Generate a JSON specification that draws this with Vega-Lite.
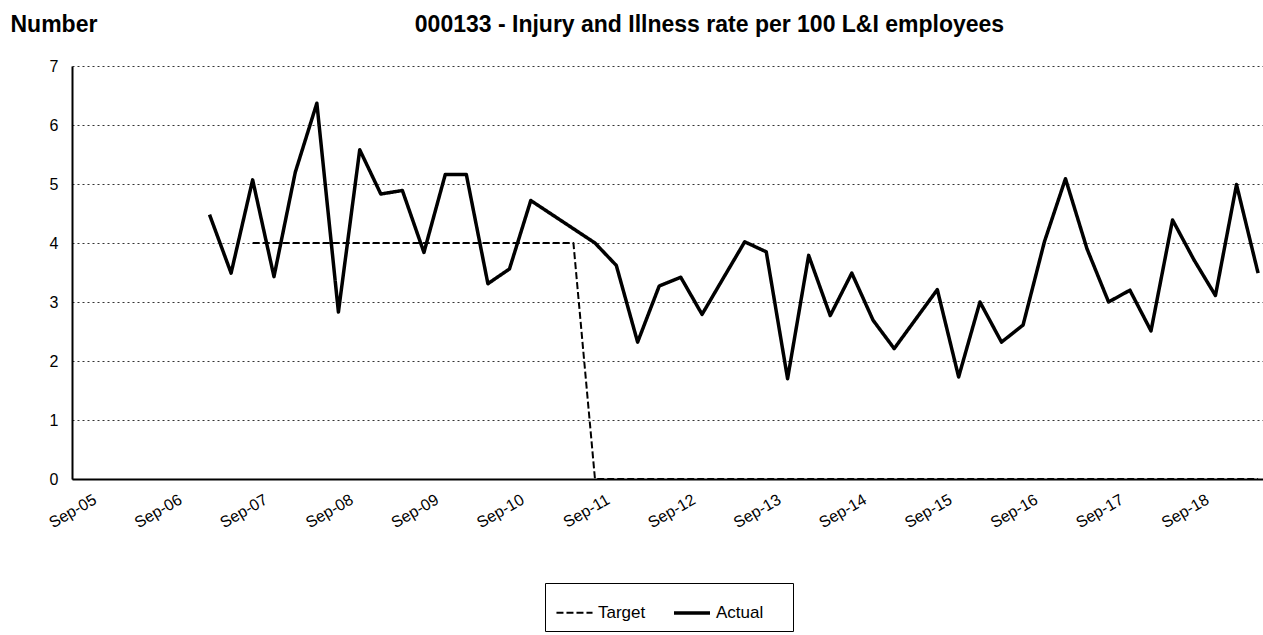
{
  "$schema": "https://vega.github.io/schema/vega-lite/v6.json",
  "width": 1191,
  "height": 413,
  "autosize": {"type": "none"},
  "padding": {"left": 72, "top": 66, "right": 0, "bottom": 156},
  "background": "white",
  "config": {"font": "Liberation Sans", "view": {"stroke": null}},
  "title": {
    "text": "000133 - Injury and Illness rate per 100 L&I employees",
    "fontSize": 23,
    "fontWeight": "bold",
    "color": "black",
    "anchor": "middle",
    "frame": "group",
    "dx": 42,
    "dy": 42,
    "offset": 0,
    "baseline": "alphabetic"
  },
  "data": {
    "values": [
      {"date": "2007-09-01", "series": "Target", "value": 4},
      {"date": "2007-12-01", "series": "Target", "value": 4},
      {"date": "2008-03-01", "series": "Target", "value": 4},
      {"date": "2008-06-01", "series": "Target", "value": 4},
      {"date": "2008-09-01", "series": "Target", "value": 4},
      {"date": "2008-12-01", "series": "Target", "value": 4},
      {"date": "2009-03-01", "series": "Target", "value": 4},
      {"date": "2009-06-01", "series": "Target", "value": 4},
      {"date": "2009-09-01", "series": "Target", "value": 4},
      {"date": "2009-12-01", "series": "Target", "value": 4},
      {"date": "2010-03-01", "series": "Target", "value": 4},
      {"date": "2010-06-01", "series": "Target", "value": 4},
      {"date": "2010-09-01", "series": "Target", "value": 4},
      {"date": "2010-12-01", "series": "Target", "value": 4},
      {"date": "2011-03-01", "series": "Target", "value": 4},
      {"date": "2011-06-01", "series": "Target", "value": 4},
      {"date": "2011-09-01", "series": "Target", "value": 0},
      {"date": "2011-12-01", "series": "Target", "value": 0},
      {"date": "2012-03-01", "series": "Target", "value": 0},
      {"date": "2012-06-01", "series": "Target", "value": 0},
      {"date": "2012-09-01", "series": "Target", "value": 0},
      {"date": "2012-12-01", "series": "Target", "value": 0},
      {"date": "2013-03-01", "series": "Target", "value": 0},
      {"date": "2013-06-01", "series": "Target", "value": 0},
      {"date": "2013-09-01", "series": "Target", "value": 0},
      {"date": "2013-12-01", "series": "Target", "value": 0},
      {"date": "2014-03-01", "series": "Target", "value": 0},
      {"date": "2014-06-01", "series": "Target", "value": 0},
      {"date": "2014-09-01", "series": "Target", "value": 0},
      {"date": "2014-12-01", "series": "Target", "value": 0},
      {"date": "2015-03-01", "series": "Target", "value": 0},
      {"date": "2015-06-01", "series": "Target", "value": 0},
      {"date": "2015-09-01", "series": "Target", "value": 0},
      {"date": "2015-12-01", "series": "Target", "value": 0},
      {"date": "2016-03-01", "series": "Target", "value": 0},
      {"date": "2016-06-01", "series": "Target", "value": 0},
      {"date": "2016-09-01", "series": "Target", "value": 0},
      {"date": "2016-12-01", "series": "Target", "value": 0},
      {"date": "2017-03-01", "series": "Target", "value": 0},
      {"date": "2017-06-01", "series": "Target", "value": 0},
      {"date": "2017-09-01", "series": "Target", "value": 0},
      {"date": "2017-12-01", "series": "Target", "value": 0},
      {"date": "2018-03-01", "series": "Target", "value": 0},
      {"date": "2018-06-01", "series": "Target", "value": 0},
      {"date": "2018-09-01", "series": "Target", "value": 0},
      {"date": "2018-12-01", "series": "Target", "value": 0},
      {"date": "2019-03-01", "series": "Target", "value": 0},
      {"date": "2019-06-01", "series": "Target", "value": 0},
      {"date": "2007-03-01", "series": "Actual", "value": 4.48},
      {"date": "2007-06-01", "series": "Actual", "value": 3.49},
      {"date": "2007-09-01", "series": "Actual", "value": 5.07},
      {"date": "2007-12-01", "series": "Actual", "value": 3.43},
      {"date": "2008-03-01", "series": "Actual", "value": 5.2},
      {"date": "2008-06-01", "series": "Actual", "value": 6.37},
      {"date": "2008-09-01", "series": "Actual", "value": 2.83},
      {"date": "2008-12-01", "series": "Actual", "value": 5.58},
      {"date": "2009-03-01", "series": "Actual", "value": 4.83},
      {"date": "2009-06-01", "series": "Actual", "value": 4.89},
      {"date": "2009-09-01", "series": "Actual", "value": 3.84},
      {"date": "2009-12-01", "series": "Actual", "value": 5.16},
      {"date": "2010-03-01", "series": "Actual", "value": 5.16},
      {"date": "2010-06-01", "series": "Actual", "value": 3.31},
      {"date": "2010-09-01", "series": "Actual", "value": 3.56},
      {"date": "2010-12-01", "series": "Actual", "value": 4.72},
      {"date": "2011-09-01", "series": "Actual", "value": 4.0},
      {"date": "2011-12-01", "series": "Actual", "value": 3.62},
      {"date": "2012-03-01", "series": "Actual", "value": 2.32},
      {"date": "2012-06-01", "series": "Actual", "value": 3.27},
      {"date": "2012-09-01", "series": "Actual", "value": 3.42},
      {"date": "2012-12-01", "series": "Actual", "value": 2.79},
      {"date": "2013-03-01", "series": "Actual", "value": 3.4},
      {"date": "2013-06-01", "series": "Actual", "value": 4.02},
      {"date": "2013-09-01", "series": "Actual", "value": 3.85},
      {"date": "2013-12-01", "series": "Actual", "value": 1.7},
      {"date": "2014-03-01", "series": "Actual", "value": 3.79},
      {"date": "2014-06-01", "series": "Actual", "value": 2.77},
      {"date": "2014-09-01", "series": "Actual", "value": 3.49},
      {"date": "2014-12-01", "series": "Actual", "value": 2.69},
      {"date": "2015-03-01", "series": "Actual", "value": 2.21},
      {"date": "2015-06-01", "series": "Actual", "value": 2.71},
      {"date": "2015-09-01", "series": "Actual", "value": 3.21},
      {"date": "2015-12-01", "series": "Actual", "value": 1.73},
      {"date": "2016-03-01", "series": "Actual", "value": 3.0},
      {"date": "2016-06-01", "series": "Actual", "value": 2.32},
      {"date": "2016-09-01", "series": "Actual", "value": 2.61},
      {"date": "2016-12-01", "series": "Actual", "value": 4.02},
      {"date": "2017-03-01", "series": "Actual", "value": 5.09},
      {"date": "2017-06-01", "series": "Actual", "value": 3.9},
      {"date": "2017-09-01", "series": "Actual", "value": 3.0},
      {"date": "2017-12-01", "series": "Actual", "value": 3.2},
      {"date": "2018-03-01", "series": "Actual", "value": 2.51},
      {"date": "2018-06-01", "series": "Actual", "value": 4.39},
      {"date": "2018-09-01", "series": "Actual", "value": 3.71},
      {"date": "2018-12-01", "series": "Actual", "value": 3.11},
      {"date": "2019-03-01", "series": "Actual", "value": 4.99},
      {"date": "2019-06-01", "series": "Actual", "value": 3.49}
    ]
  },
  "mark": {"type": "line", "strokeJoin": "round"},
  "encoding": {
    "x": {
      "field": "date",
      "type": "temporal",
      "scale": {
        "type": "utc",
        "domain": [
          {"year": 2005, "month": 7, "date": 22, "utc": true},
          {"year": 2019, "month": 6, "date": 22, "utc": true}
        ]
      },
      "axis": {
        "title": null,
        "values": [
          {"year": 2005, "month": 9, "date": 1, "utc": true},
          {"year": 2006, "month": 9, "date": 1, "utc": true},
          {"year": 2007, "month": 9, "date": 1, "utc": true},
          {"year": 2008, "month": 9, "date": 1, "utc": true},
          {"year": 2009, "month": 9, "date": 1, "utc": true},
          {"year": 2010, "month": 9, "date": 1, "utc": true},
          {"year": 2011, "month": 9, "date": 1, "utc": true},
          {"year": 2012, "month": 9, "date": 1, "utc": true},
          {"year": 2013, "month": 9, "date": 1, "utc": true},
          {"year": 2014, "month": 9, "date": 1, "utc": true},
          {"year": 2015, "month": 9, "date": 1, "utc": true},
          {"year": 2016, "month": 9, "date": 1, "utc": true},
          {"year": 2017, "month": 9, "date": 1, "utc": true},
          {"year": 2018, "month": 9, "date": 1, "utc": true}
        ],
        "labelExpr": "utcFormat(datum.value, '%b-%y')",
        "labelAngle": -30,
        "labelAlign": "right",
        "labelBaseline": "top",
        "labelPadding": 12,
        "labelOffset": 9,
        "labelFontSize": 16,
        "labelColor": "black",
        "labelOverlap": false,
        "labelFlush": false,
        "ticks": false,
        "grid": false,
        "domainColor": "black",
        "domainWidth": 2
      }
    },
    "y": {
      "field": "value",
      "type": "quantitative",
      "scale": {"domain": [0, 7], "nice": false},
      "axis": {
        "values": [0, 1, 2, 3, 4, 5, 6, 7],
        "grid": true,
        "gridDash": [2, 3],
        "gridColor": "#333333",
        "gridWidth": 1,
        "ticks": false,
        "domainColor": "black",
        "domainWidth": 2,
        "labelPadding": 14,
        "labelFontSize": 16,
        "labelColor": "black",
        "title": "Number",
        "titleAngle": 0,
        "titleAlign": "left",
        "titleBaseline": "alphabetic",
        "titleX": -62,
        "titleY": -35,
        "titleFontSize": 23,
        "titleFontWeight": "bold",
        "titleColor": "black"
      }
    },
    "color": {
      "field": "series",
      "type": "nominal",
      "scale": {"domain": ["Target", "Actual"], "range": ["black", "black"]},
      "legend": {
        "title": " ",
        "titleOrient": "right",
        "titlePadding": 20,
        "orient": "none",
        "legendX": 473,
        "legendY": 517,
        "direction": "horizontal",
        "symbolType": "stroke",
        "symbolSize": 1300,
        "labelFontSize": 17,
        "labelColor": "black",
        "labelOffset": 4,
        "columnPadding": 20,
        "padding": 10,
        "strokeColor": "black"
      }
    },
    "strokeDash": {
      "field": "series",
      "type": "nominal",
      "scale": {"domain": ["Target", "Actual"], "range": [[7, 3], [1, 0]]},
      "legend": {
        "title": " ",
        "titleOrient": "right",
        "titlePadding": 20,
        "orient": "none",
        "legendX": 473,
        "legendY": 517,
        "direction": "horizontal",
        "symbolType": "stroke",
        "symbolSize": 1300,
        "labelFontSize": 17,
        "labelColor": "black",
        "labelOffset": 4,
        "columnPadding": 20,
        "padding": 10,
        "strokeColor": "black"
      }
    },
    "strokeWidth": {
      "field": "series",
      "type": "nominal",
      "scale": {"type": "point", "padding": 0, "domain": ["Target", "Actual"], "range": [2, 3.5]},
      "legend": {
        "title": " ",
        "titleOrient": "right",
        "titlePadding": 20,
        "orient": "none",
        "legendX": 473,
        "legendY": 517,
        "direction": "horizontal",
        "symbolType": "stroke",
        "symbolSize": 1300,
        "labelFontSize": 17,
        "labelColor": "black",
        "labelOffset": 4,
        "columnPadding": 20,
        "padding": 10,
        "strokeColor": "black"
      }
    }
  }
}
